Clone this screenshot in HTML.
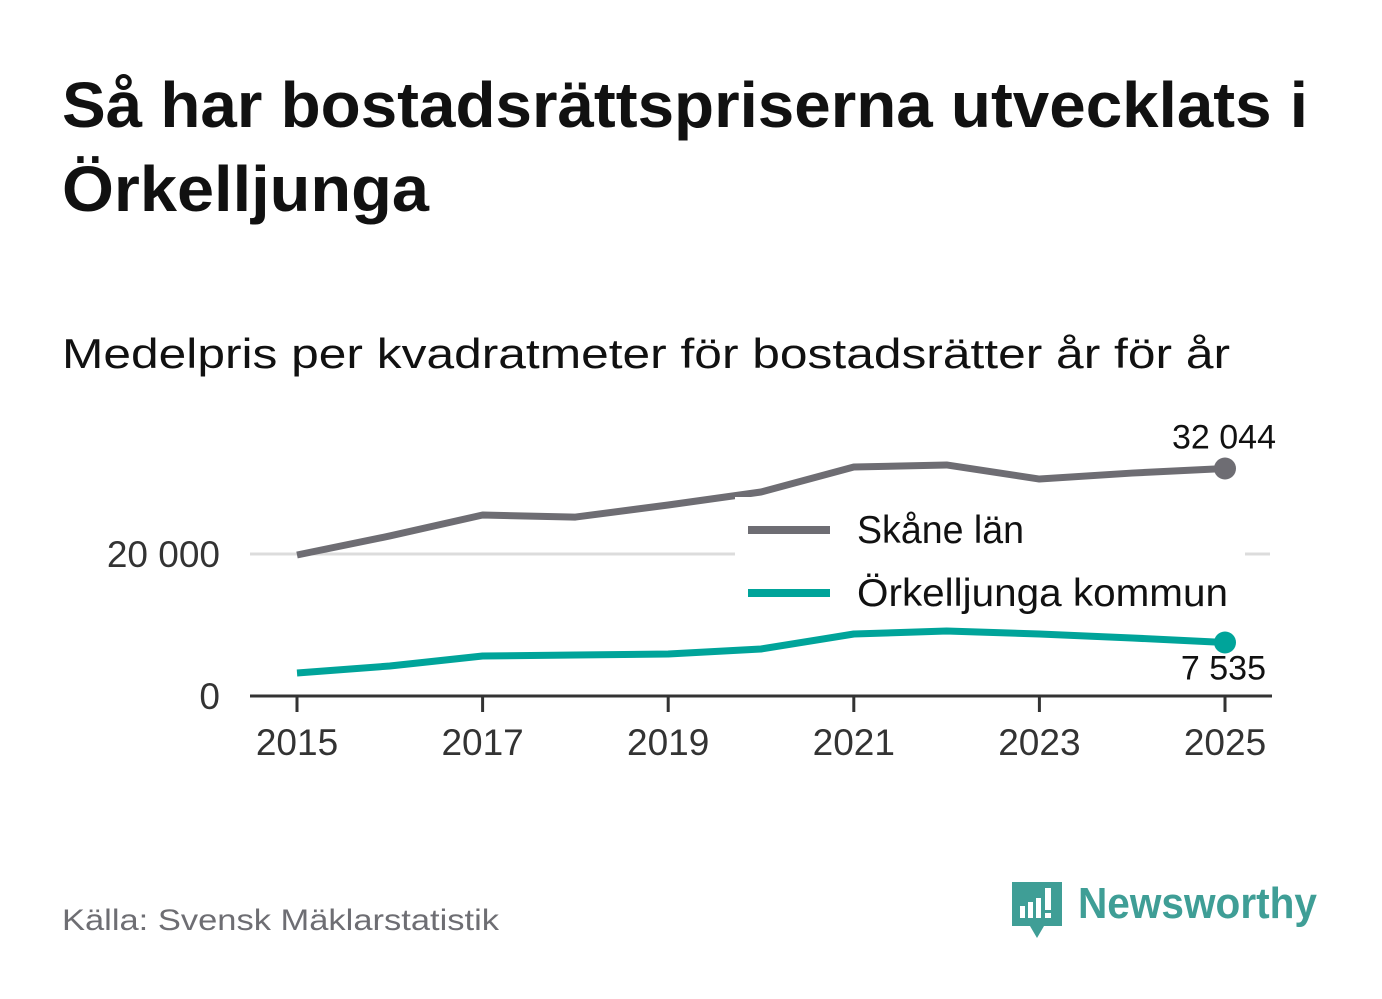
<!DOCTYPE html>
<html><head><meta charset="utf-8"><style>
html,body{margin:0;padding:0;background:#fff;}
svg{display:block;font-family:"Liberation Sans","DejaVu Sans",sans-serif;}
</style></head><body>
<svg id="chart" width="1382" height="999" viewBox="0 0 1382 999">
<rect width="1382" height="999" fill="#fff"/>
<text x="62" y="127" font-size="64" font-weight="bold" fill="#111" textLength="1246" lengthAdjust="spacingAndGlyphs">Så har bostadsrättspriserna utvecklats i</text>
<text x="62" y="211" font-size="64" font-weight="bold" fill="#111" textLength="367" lengthAdjust="spacingAndGlyphs">Örkelljunga</text>
<text x="62" y="368" font-size="42" fill="#111" textLength="1168" lengthAdjust="spacingAndGlyphs">Medelpris per kvadratmeter för bostadsrätter år för år</text>
<g id="plot"></g>
<text x="62" y="930" font-size="30" fill="#6e6e73" textLength="437" lengthAdjust="spacingAndGlyphs">Källa: Svensk Mäklarstatistik</text>
<g>
<path d="M1012 882 h50 v44 h-18 l-7 12 l-7 -12 h-18 z" fill="#3f9e96"/>
<rect x="1020" y="906" width="5" height="12" fill="#fff"/>
<rect x="1028" y="902" width="5" height="16" fill="#fff"/>
<rect x="1036" y="898" width="5" height="20" fill="#fff"/>
<rect x="1045" y="888" width="6" height="22" fill="#fff"/>
<rect x="1045" y="913" width="6" height="5" fill="#fff"/>
<text x="1078" y="918" font-size="44" font-weight="bold" fill="#3f9e96" textLength="239" lengthAdjust="spacingAndGlyphs">Newsworthy</text>
</g>
</svg>
<script>
const years=[2015,2016,2017,2018,2019,2020,2021,2022,2023,2024,2025];
const skane=[19860,22540,25490,25200,26900,28730,32250,32540,30560,31400,32044];
const orkelljunga=[3240,4225,5630,5770,5915,6620,8730,9150,8730,8170,7535];
const yTicks=[0,20000];
const yTickLabels=["0","20 000"];
const xTicks=[2015,2017,2019,2021,2023,2025];
const NS="http://www.w3.org/2000/svg";
const g=document.getElementById('plot');
const x=v=>297+(v-2015)*92.8;
const y=v=>696-v*142/20000;
function mk(t,a){const e=document.createElementNS(NS,t);for(const k in a)e.setAttribute(k,a[k]);g.appendChild(e);return e;}
yTicks.forEach((t,i)=>{
  if(t!==0){const l=mk('line',{x1:250,x2:1270,y1:y(t),y2:y(t),stroke:'#dcdcdc','stroke-width':3});
  
  }
  const tx=mk('text',{x:220,y:y(t)+13,'font-size':37,fill:'#333','text-anchor':'end'});
  tx.textContent=yTickLabels[i];
  
  
});
const ax=mk('line',{x1:250,x2:1272,y1:696,y2:696,stroke:'#333','stroke-width':3});


xTicks.forEach(t=>{
  const l=mk('line',{x1:x(t),x2:x(t),y1:696,y2:712,stroke:'#333','stroke-width':3});
  
  
  const tx=mk('text',{x:x(t),y:755,'font-size':37,fill:'#333','text-anchor':'middle'});
  tx.textContent=t;
  
  
});
function series(vals,col,name){
  const p=mk('polyline',{points:vals.map((v,i)=>x(years[i])+','+y(v)).join(' '),fill:'none',stroke:col,'stroke-width':7,'stroke-linejoin':'round'});
  
  
  const n=vals.length-1;
  const c=mk('circle',{cx:x(years[n]),cy:y(vals[n]),r:11,fill:col});
  
  
}
series(skane,'#6e6d73','skane');
series(orkelljunga,'#00a49a','orkelljunga');
const lb=mk('rect',{x:735,y:497,width:510,height:117,fill:'#fff'});


[['Skåne län','#6e6d73',530,167],['Örkelljunga kommun','#00a49a',593,371]].forEach(([t,c,yy,w])=>{
  const l=mk('line',{x1:748,x2:830,y1:yy,y2:yy,stroke:c,'stroke-width':8});
  
  
  const tx=mk('text',{x:857,y:yy+13,'font-size':39,fill:'#111',textLength:w,lengthAdjust:'spacingAndGlyphs'});
  tx.textContent=t;
  
  
});
const n=years.length-1;
const a1=mk('text',{x:1276,y:y(skane[n])-20,'font-size':34,fill:'#111','text-anchor':'end'});
a1.textContent=skane[n].toLocaleString('sv-SE').replace(/\s/g,' ');


const a2=mk('text',{x:1266,y:y(orkelljunga[n])+37,'font-size':34,fill:'#111','text-anchor':'end'});
a2.textContent=orkelljunga[n].toLocaleString('sv-SE').replace(/\s/g,' ');


</script>
</body></html>
